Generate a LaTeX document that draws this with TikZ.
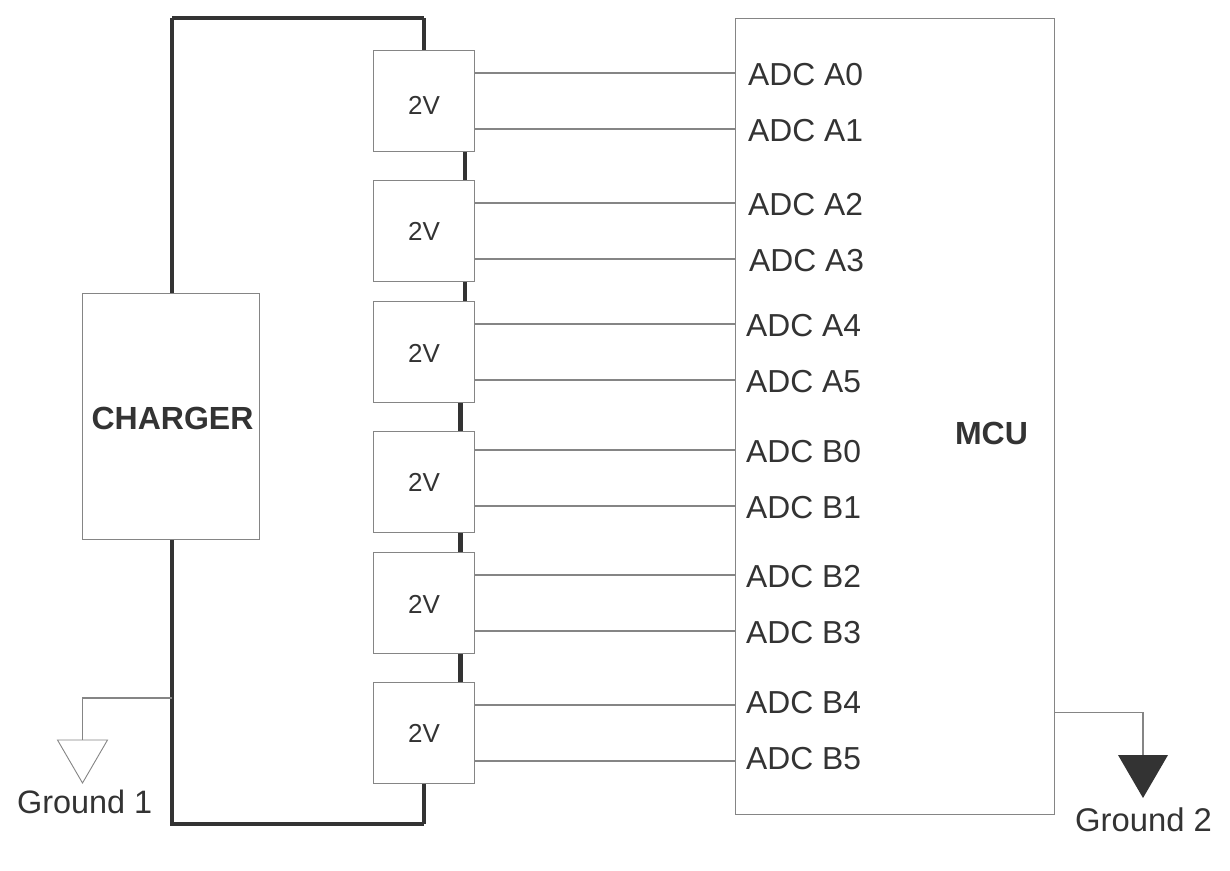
\documentclass[tikz,border=0pt]{standalone}
\usepackage{fontspec}
\setmainfont{Liberation Sans}
\definecolor{ink}{HTML}{333333}
\definecolor{edge}{HTML}{858585}
\tikzset{
  x=1pt,y=-1pt,
  box/.style={draw=edge,line width=1.1pt,fill=white,inner sep=0pt,text=ink},
  cell/.style={box,minimum width=101.4pt,minimum height=101.4pt},
  volt/.style={anchor=base,inner sep=0pt,text=ink,font=\fontsize{26}{30}\selectfont},
  rail/.style={draw=ink,line width=4.6pt,line cap=square},
  link/.style={draw=ink,line width=4.6pt},
  wire/.style={draw=edge,line width=1.1pt},
  lbl/.style={anchor=base west,inner sep=0pt,text=ink,font=\fontsize{31.8}{36}\selectfont},
  gnd/.style={anchor=base west,inner sep=0pt,text=ink,font=\fontsize{32.4}{36}\selectfont},
  gndb/.style={anchor=base west,inner sep=0pt,text=ink,font=\fontsize{32.8}{36}\selectfont},
  bold/.style={anchor=base,inner sep=0pt,text=ink,font=\fontsize{32}{36}\selectfont\bfseries}
}
\begin{document}
\begin{tikzpicture}
\useasboundingbox (0,0) rectangle (1230,870);
% rails
\coordinate (tl) at (172,18);
\coordinate (tr) at (424,18);
\coordinate (bl) at (172,824);
\coordinate (br) at (424,824);
\draw[rail] (tl) -- (bl) -- (br);
\draw[rail] (tl) -- (tr);
% cells
\node[cell] (b1) at (424,101) {};
\node[cell] (b2) at (424,231) {};
\node[cell] (b3) at (424,352) {};
\node[cell] (b4) at (424,482) {};
\node[cell] (b5) at (424,603) {};
\node[cell] (b6) at (424,733) {};
\node[volt] (v1) at (424,114) {2V};
\node[volt] (v2) at (424,240) {2V};
\node[volt] (v3) at (424,362) {2V};
\node[volt] (v4) at (424,491) {2V};
\node[volt] (v5) at (424,613) {2V};
\node[volt] (v6) at (424,742) {2V};
% rail ends to first and last cell
\draw[link] (tr) -- (b1.north);
\draw[link] (b6.south) -- (br);
% links between cells
\draw[link] ([xshift=41pt]b1.south) -- ([xshift=41pt]b2.north);
\draw[link] ([xshift=41pt]b2.south) -- ([xshift=41pt]b3.north);
\draw[link] ([xshift=36.5pt]b3.south) -- ([xshift=36.5pt]b4.north);
\draw[link] ([xshift=36.5pt]b4.south) -- ([xshift=36.5pt]b5.north);
\draw[link] ([xshift=36.5pt]b5.south) -- ([xshift=36.5pt]b6.north);
% charger and mcu
\node[box,minimum width=177.6pt,minimum height=246.6pt] (charger) at (171,416.5) {};
\node[bold] (chargerl) at (172.5,429) {CHARGER};
\node[box,minimum width=319.6pt,minimum height=796.6pt] (mcu) at (895,416.5) {};
\node[bold] (mcul) at (991.5,444) {MCU};
% ADC wires
\foreach \c/\a/\b in {b1/73/129,b2/203/259,b3/324/380,b4/450/506,b5/575/631,b6/705/761}{
  \draw[wire] (\c.east |- 0,\a) -- (mcu.west |- 0,\a);
  \draw[wire] (\c.east |- 0,\b) -- (mcu.west |- 0,\b);
}
% ADC labels
\node[lbl] (a0) at (748,85) {ADC A0};
\node[lbl] (a1) at (748,141) {ADC A1};
\node[lbl] (a2) at (748,215) {ADC A2};
\node[lbl] (a3) at (749,271) {ADC A3};
\node[lbl] (a4) at (746,336) {ADC A4};
\node[lbl] (a5) at (746,392) {ADC A5};
\node[lbl] (b0l) at (746,462) {ADC B0};
\node[lbl] (b1l) at (746,518) {ADC B1};
\node[lbl] (b2l) at (746,587) {ADC B2};
\node[lbl] (b3l) at (746,643) {ADC B3};
\node[lbl] (b4l) at (746,713) {ADC B4};
\node[lbl] (b5l) at (746,769) {ADC B5};
% grounds
\coordinate (g1top) at (82.5,740);
\coordinate (g2top) at (1143,755);
\coordinate (g1tap) at (172,698);
\draw[wire] (g1tap) -- (g1top |- g1tap) -- (g1top);
\draw[wire] (mcu.east |- 0,712.5) -- (g2top |- 0,712.5) -- (g2top);
\draw[draw=edge,line width=0.9pt,fill=white] (57.5,740) -- (107.5,740) -- (82.5,783) -- cycle;
\fill[ink] (1118,755) -- (1168,755) -- (1143,798) -- cycle;
\node[gnd] (g1) at (17,813) {Ground 1};
\node[gndb] (g2) at (1075,831) {Ground 2};
\end{tikzpicture}
\end{document}
